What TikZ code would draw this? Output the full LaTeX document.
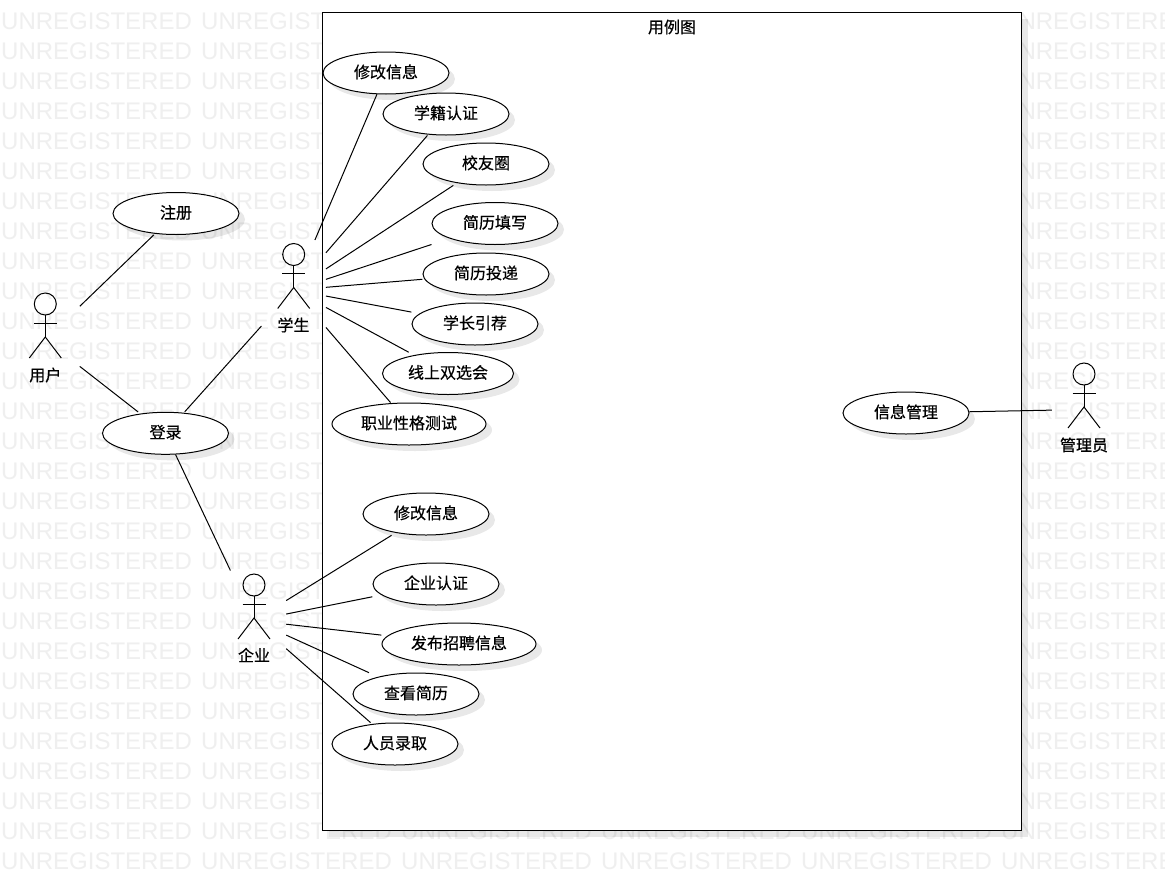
\documentclass[tikz,border=0pt]{standalone}
\usepackage{fontspec}
\setmainfont[FakeBold=0.5]{Noto Sans CJK SC}
\newfontfamily\markfont{Liberation Sans}
\usetikzlibrary{shapes.geometric,shadows}
\definecolor{UCInk}{HTML}{000000}
\definecolor{UCMark}{HTML}{EFEFEF}
\tikzset{
  softshadow/.style={drop shadow={shadow xshift=6pt,shadow yshift=-6pt,opacity=.09,fill=UCInk}},
  assoc/.style={UCInk,line width=1pt},
  boundary/.style={draw=UCInk,line width=1pt,fill=white,softshadow,inner sep=0pt,
                   minimum width=699pt,minimum height=818pt},
  usecase/.style={ellipse,draw=UCInk,line width=1pt,fill=white,softshadow,inner sep=0pt,
                  minimum width=126pt,minimum height=42pt,text=UCInk,
                  text height=13pt,text depth=3pt,
                  font=\fontsize{16}{18}\selectfont},
  usecasewide/.style={usecase,minimum width=131pt},
  usecaselong/.style={usecase,minimum width=154pt},
  actorbox/.style={inner sep=0pt,outer sep=0pt,minimum width=64.5pt,minimum height=100pt},
  actorlabel/.style={text=UCInk,font=\fontsize{16}{18}\selectfont},
  boxtitle/.style={text=UCInk,font=\fontsize{16}{18}\selectfont},
  watermark/.style={anchor=west,inner sep=0pt,text=UCMark,font=\fontsize{24}{28}\markfont},
  actorman/.pic={
    \draw[assoc] (0,-35.5) circle[radius=11pt];
    \draw[assoc] (0,-24.5) -- (0,-2.5);
    \draw[assoc] (-11.5,-16.5) -- (11.5,-16.5);
    \draw[assoc] (-16,18.5) -- (0,-2.5) -- (16,18.5);
  },
}
\begin{document}
\begin{tikzpicture}[x=1pt,y=-1pt]

    \useasboundingbox (0,0) rectangle (1165,881);
    \fill[white] (0,0) rectangle (1165,881);

    \begin{scope}
      \clip (0,0) rectangle (1165,881);
      \foreach \row in {0,...,28}
        \foreach \col in {0,...,5}
          \node[watermark] at (\col*200+1,21.7+\row*30) {UNREGISTERED};
    \end{scope}

    \node[boundary] (system) at (672,421.5) {};
    \node[boxtitle] (systemtitle) at (672,27) {用例图};

    % actors
    \node[actorbox,minimum width=69pt] (user) at (45.3,339.5) {};
    \node[actorbox] (student) at (293.7,290) {};
    \node[actorbox] (company) at (254,620.5) {};
    \node[actorbox] (admin) at (1084,409.5) {};
    \pic at (user.center) {actorman};
    \pic at (student.center) {actorman};
    \pic at (company.center) {actorman};
    \pic at (admin.center) {actorman};
    \node[actorlabel] (userlabel) at (45.3,375) {用户};
    \node[actorlabel] (studentlabel) at (293.5,325) {学生};
    \node[actorlabel] (companylabel) at (254,655) {企业};
    \node[actorlabel] (adminlabel) at (1084,445) {管理员};

    % outside the boundary
    \node[usecase] (signup) at (176,213.5) {注册};
    \node[usecase] (login) at (165.5,433.3) {登录};

    % student
    \node[usecase] (stuedit) at (386,73) {修改信息};
    \node[usecase] (stuauth) at (446,114) {学籍认证};
    \node[usecase] (alumni) at (486,164) {校友圈};
    \node[usecase] (cvfill) at (495,223.5) {简历填写};
    \node[usecase] (cvsend) at (486,274) {简历投递};
    \node[usecase] (referral) at (475,324) {学长引荐};
    \node[usecasewide] (fair) at (448,373.5) {线上双选会};
    \node[usecaselong] (mbti) at (409,424) {职业性格测试};

    % company
    \node[usecase] (comedit) at (426,514) {修改信息};
    \node[usecase] (comauth) at (436,584) {企业认证};
    \node[usecaselong] (jobpost) at (459,644) {发布招聘信息};
    \node[usecase] (cvread) at (416,694) {查看简历};
    \node[usecase] (hire) at (395,744) {人员录取};

    % admin
    \node[usecase] (infoman) at (906,413) {信息管理};

    \draw[assoc,shorten >=1.7pt] (user) -- (signup);
    \draw[assoc,shorten >=2.7pt] (user) -- (login);
    \draw[assoc,shorten >=1.2pt] (student) -- (login);
    \draw[assoc] (company) -- (login);

    \draw[assoc] (student) -- (stuedit);
    \draw[assoc,shorten >=1.1pt] (student) -- (stuauth);
    \draw[assoc,shorten >=4.2pt] (student) -- (alumni);
    \draw[assoc,shorten >=19pt] (student) -- (cvfill);
    \draw[assoc,shorten >=1.9pt] (student) -- (cvsend);
    \draw[assoc,shorten >=8.2pt] (student) -- (referral);
    \draw[assoc,shorten >=6pt] (student) -- (fair);
    \draw[assoc,shorten >=.7pt] (student) -- (mbti);

    \draw[assoc,shorten >=4.7pt] (company) -- (comedit);
    \draw[assoc,shorten >=9.2pt] (company) -- (comauth);
    \draw[assoc,shorten >=6pt] (company) -- (jobpost);
    \draw[assoc,shorten >=9.9pt] (company) -- (cvread);
    \draw[assoc,shorten >=2.1pt] (company) -- (hire);

    \draw[assoc] (admin) -- (infoman);
  \end{tikzpicture}
\end{document}
